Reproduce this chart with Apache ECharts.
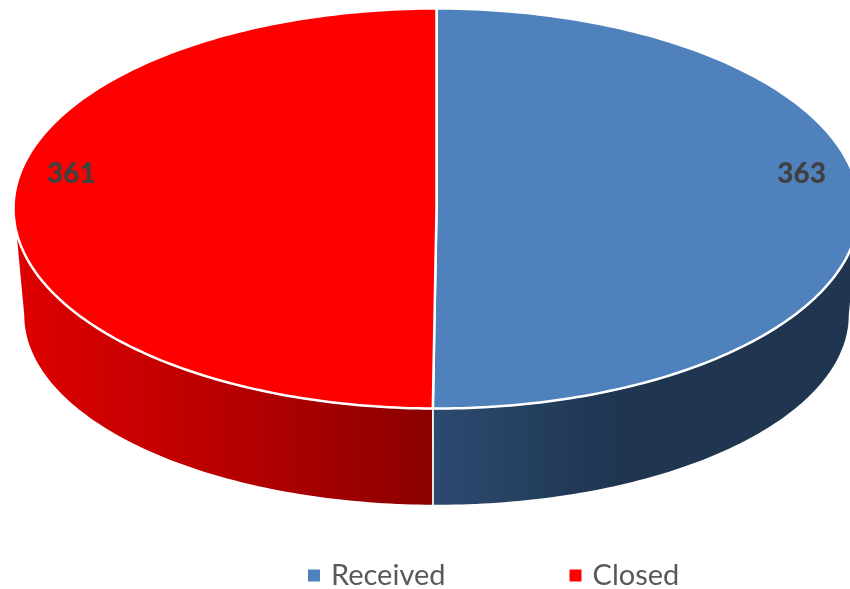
<!DOCTYPE html>
<html><head><meta charset="utf-8">
<style>html,body{margin:0;padding:0;background:#fff}#c{width:850px;height:589px}</style>
<script src="https://cdn.jsdelivr.net/npm/echarts@6/dist/echarts.min.js"></script>
</head><body><div id="c"></div>
<script>
const categories = ['Received', 'Closed'];
const values = [363, 361];
const colors = ['#4f81bd', '#ff0000'];

// Disc layout: top face ellipse and (perspective-reduced) bottom ellipse
const TOP = {cx: 436.5, cy: 208.5, rx: 423, ry: 200};
const BOT = {cx: 436.5, cy: 315, rx: 413, ry: 190.5};
const FRONT = [[95, 90], [265, 270]]; // wall start on top face / on bottom face, degrees clockwise from 12 o'clock
const wallGradients = [
  {x0: 433, x1: 850, stops: [{offset: 0, color: '#2c4a70'}, {offset: 0.45, color: '#1f3550'}, {offset: 1, color: '#1f3550'}]},
  {x0: 15, x1: 433, stops: [{offset: 0, color: '#df0000'}, {offset: 0.5, color: '#b80000'}, {offset: 1, color: '#8a0000'}]}
];

const total = values.reduce((a, b) => a + b, 0);
function pt(e, deg) {
  const r = deg * Math.PI / 180;
  return [e.cx + e.rx * Math.sin(r), e.cy - e.ry * Math.cos(r)];
}
function arc(e, a, b) {
  const n = Math.max(2, Math.ceil(Math.abs(b - a)));
  const out = [];
  for (let i = 0; i <= n; i++) out.push(pt(e, a + (b - a) * i / n));
  return out;
}
function renderSlice(idx) {
  return function () {
    let start = 0;
    for (let i = 0; i < idx; i++) start += values[i] / total * 360;
    const end = start + values[idx] / total * 360;
    const mid = (start + end) / 2;
    const children = [];
    const g = wallGradients[idx];
    // Received's wall runs right-to-bottom, Closed's bottom-to-left
    const wallPts = idx === 0
      ? arc(TOP, FRONT[0][0], end).concat(arc(BOT, end, FRONT[0][1]))
      : arc(TOP, start, FRONT[1][0]).concat(arc(BOT, FRONT[1][1], start));
    children.push({
      type: 'polygon',
      shape: {points: wallPts},
      style: {
        fill: new echarts.graphic.LinearGradient(g.x0, 0, g.x1, 0, g.stops, true),
        stroke: '#ffffff', lineWidth: 1.5
      }
    });
    children.push({
      type: 'polygon',
      shape: {points: [[TOP.cx, TOP.cy]].concat(arc(TOP, start, end))},
      style: {fill: colors[idx], stroke: '#ffffff', lineWidth: 2.5}
    });
    const lab = [TOP.cx + TOP.rx * 0.863 * Math.sin(mid * Math.PI / 180), TOP.cy - 35];
    children.push({
      type: 'text',
      x: lab[0], y: lab[1],
      style: {text: String(values[idx]), fill: '#404040', font: '900 28px Lato', align: 'center', verticalAlign: 'middle'}
    });
    return {type: 'group', children};
  };
}
const chart = echarts.init(document.getElementById('c'), null, {renderer: 'canvas'});
chart.setOption({
  animation: false,
  backgroundColor: '#ffffff',
  legend: {
    data: categories.map((n, i) => ({name: n, itemStyle: {color: colors[i]}})),
    left: 308, top: 561, padding: 0, icon: 'rect', itemWidth: 12, itemHeight: 12, itemGap: 124,
    textStyle: {fontFamily: 'Lato', fontSize: 29, color: '#595959', padding: [0, 0, 0, 6]}
  },
  series: categories.map((n, i) => ({
    type: 'custom', name: n, coordinateSystem: 'none',
    itemStyle: {color: colors[i]},
    data: [values[i]], renderItem: renderSlice(i), clip: false, silent: true
  }))
});
</script></body></html>
